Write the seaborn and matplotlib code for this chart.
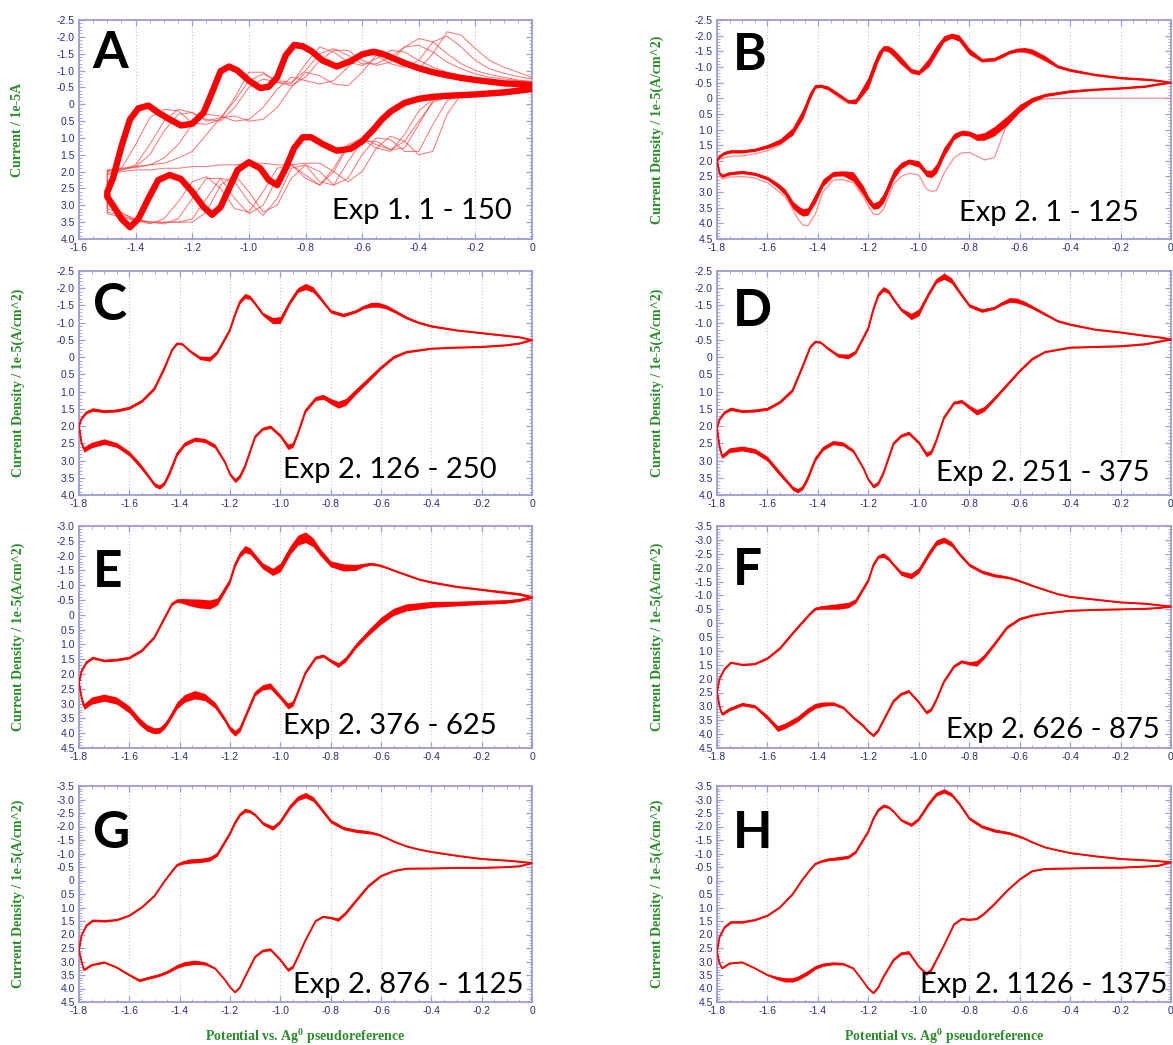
import numpy as np
import pandas as pd
import matplotlib
matplotlib.use("Agg")
import matplotlib.pyplot as plt
import seaborn as sns
from matplotlib.ticker import MultipleLocator, FuncFormatter

sns.set_style("white")
plt.rcParams["font.family"] = ["Liberation Sans", "DejaVu Sans"]
plt.rcParams["mathtext.fontset"] = "custom"
plt.rcParams["mathtext.rm"] = "Liberation Serif:bold"
plt.rcParams["mathtext.it"] = "Liberation Serif:bold"
plt.rcParams["mathtext.bf"] = "Liberation Serif:bold"

RED = "#ff0000"
SPINE = "#9c9cd4"
TICKC = "#2b2b80"
GREEN = "#2a8c2a"

# ---------------- potential grids (V vs Ag0) ----------------
XA = [0.0, -0.05, -0.1, -0.15, -0.2, -0.25, -0.3, -0.35, -0.4, -0.45, -0.5, -0.55, -0.6, -0.65, -0.7,
      -0.75, -0.8, -0.85, -0.9, -0.95, -1.0, -1.05, -1.1, -1.15, -1.2, -1.25, -1.3, -1.35, -1.4, -1.45, -1.5]
XAF = [0.0, -0.05, -0.1, -0.15, -0.2, -0.25, -0.3, -0.35, -0.4, -0.45, -0.5, -0.53, -0.56, -0.6, -0.64,
       -0.69, -0.74, -0.78, -0.81, -0.84, -0.87, -0.9, -0.93, -0.96, -1.0, -1.04, -1.07, -1.1, -1.13, -1.16,
       -1.2, -1.24, -1.28, -1.32, -1.355, -1.39, -1.42, -1.45, -1.48, -1.5]
XU = [0.0, -0.05, -0.1, -0.2, -0.3, -0.4, -0.45, -0.5, -0.55, -0.58, -0.61, -0.64, -0.67, -0.7, -0.75, -0.8,
      -0.84, -0.87, -0.9, -0.93, -0.96, -1.0, -1.03, -1.07, -1.1, -1.12, -1.14, -1.16, -1.18, -1.2, -1.25,
      -1.28, -1.32, -1.36, -1.39, -1.41, -1.43, -1.46, -1.5, -1.55, -1.6, -1.65, -1.7, -1.745, -1.77, -1.79,
      -1.8]
XL = [0.0, -0.05, -0.1, -0.2, -0.3, -0.4, -0.5, -0.55, -0.6, -0.65, -0.7, -0.74, -0.77, -0.8, -0.83, -0.86,
      -0.9, -0.93, -0.95, -0.97, -1.0, -1.04, -1.07, -1.1, -1.14, -1.16, -1.18, -1.2, -1.22, -1.26, -1.3,
      -1.34, -1.38, -1.41, -1.44, -1.46, -1.48, -1.5, -1.53, -1.56, -1.6, -1.65, -1.7, -1.75, -1.78, -1.79,
      -1.8]

# ---------------- Panel A (current / 1e-5 A) ----------------
# converged cycle (thick band), on XAF
A_final_up = [-0.57, -0.60, -0.62, -0.67, -0.72, -0.78, -0.86, -0.95, -1.07, -1.22, -1.40, -1.50, -1.56, -1.48,
              -1.28, -1.12, -1.30, -1.58, -1.72, -1.76, -1.45, -0.80, -0.52, -0.48, -0.70, -1.00, -1.12, -0.98,
              -0.35, 0.25, 0.58, 0.63, 0.45, 0.25, 0.04, 0.12, 0.45, 1.25, 2.20, 2.60]
A_final_lo = [-0.45, -0.40, -0.35, -0.32, -0.29, -0.27, -0.25, -0.22, -0.16, -0.04, 0.22, 0.45, 0.75, 1.10,
              1.32, 1.38, 1.18, 0.98, 0.98, 1.30, 1.90, 2.40, 2.25, 1.90, 1.72, 1.95, 2.50, 3.05, 3.28, 3.05,
              2.60, 2.22, 2.10, 2.25, 2.80, 3.40, 3.65, 3.40, 3.00, 2.75]
# early drifting cycles (thin lines), on XA
A_c1_up = [-0.80, -0.95, -1.10, -1.30, -1.65, -2.05, -2.15, -1.50, -1.05, -1.15, -1.45, -1.45, -0.95, -0.55,
           -0.60, -0.85, -0.95, -0.50, 0.10, 0.45, 0.50, 0.35, 0.40, 0.90, 1.40, 1.60, 1.75, 1.80, 1.85, 1.90,
           1.95]
A_c1_lo = [-0.45, -0.42, -0.40, -0.38, -0.35, -0.30, 0.30, 1.40, 1.50, 1.10, 0.95, 1.30, 2.00, 2.30, 2.00,
           1.75, 1.75, 1.80, 1.80, 1.75, 1.75, 1.80, 1.80, 1.85, 1.85, 1.90, 1.90, 1.95, 1.95, 2.00, 2.05]
A_c2_up = [-0.75, -0.82, -0.92, -1.05, -1.30, -1.70, -2.02, -1.85, -1.30, -1.10, -1.20, -1.45, -1.50, -1.10,
           -0.70, -0.60, -0.70, -0.80, -0.45, 0.10, 0.45, 0.50, 0.35, 0.30, 0.60, 1.20, 1.60, 1.80, 1.88,
           1.92, 1.97]
A_c2_lo = [-0.45, -0.42, -0.40, -0.38, -0.35, -0.30, -0.10, 0.60, 1.40, 1.40, 1.05, 1.00, 1.50, 2.20, 2.40,
           2.00, 1.80, 2.20, 3.00, 3.20, 2.60, 2.10, 2.40, 3.20, 3.50, 3.50, 3.50, 3.50, 3.45, 3.35, 3.25]
A_c3_up = [-0.68, -0.72, -0.80, -0.88, -1.00, -1.20, -1.50, -1.85, -1.95, -1.70, -1.25, -1.15, -1.30, -1.60,
           -1.60, -1.30, -0.80, -0.55, -0.65, -0.75, -0.50, 0.10, 0.50, 0.45, 0.25, 0.30, 0.80, 1.50, 1.85,
           1.95, 2.00]
A_c3_lo = [-0.45, -0.42, -0.40, -0.38, -0.35, -0.32, -0.28, -0.10, 0.60, 1.30, 1.35, 1.10, 1.10, 1.70, 2.40,
           2.30, 1.80, 1.90, 2.80, 3.30, 2.90, 2.30, 2.20, 2.80, 3.40, 3.50, 3.50, 3.50, 3.45, 3.30, 3.20]
A_c4_up = [-0.65, -0.70, -0.75, -0.80, -0.90, -1.05, -1.25, -1.55, -1.75, -1.70, -1.40, -1.20, -1.20, -1.45,
           -1.65, -1.50, -1.00, -0.65, -0.70, -0.90, -0.70, -0.10, 0.40, 0.50, 0.25, 0.15, 0.50, 1.20, 1.80,
           1.95, 2.10]
A_c4_lo = [-0.45, -0.42, -0.40, -0.37, -0.34, -0.30, -0.25, -0.15, 0.20, 0.90, 1.40, 1.30, 1.05, 1.25, 2.00,
           2.40, 2.10, 1.80, 2.20, 3.00, 3.25, 2.80, 2.20, 2.20, 2.80, 3.40, 3.55, 3.50, 3.40, 3.25, 3.10]
A_c5_up = [-0.62, -0.65, -0.68, -0.72, -0.78, -0.85, -0.95, -1.10, -1.30, -1.55, -1.60, -1.35, -1.15, -1.25,
           -1.55, -1.70, -1.20, -0.60, -0.65, -0.95, -0.95, -0.20, 0.45, 0.60, 0.55, 0.20, 0.15, 0.40, 1.20,
           1.90, 2.30]
A_c5_lo = [-0.45, -0.42, -0.38, -0.35, -0.32, -0.28, -0.22, -0.05, 0.50, 1.10, 1.35, 1.20, 1.00, 1.20, 1.90,
           2.40, 2.20, 1.80, 1.90, 2.60, 3.20, 3.10, 2.50, 2.15, 2.30, 2.90, 3.40, 3.55, 3.45, 3.20, 3.00]

# ---------------- Panels B-H (current density / 1e-5 A cm^-2) ----------------
B_up = [-0.50, -0.56, -0.60, -0.65, -0.75, -0.90, -1.02, -1.28, -1.49, -1.55, -1.54, -1.48, -1.36, -1.25,
        -1.22, -1.50, -1.92, -2.00, -1.90, -1.55, -1.15, -0.82, -0.88, -1.20, -1.45, -1.58, -1.60, -1.35,
        -0.95, -0.50, 0.10, 0.10, -0.12, -0.33, -0.40, -0.38, -0.10, 0.50, 1.06, 1.38, 1.54, 1.65, 1.70,
        1.70, 1.75, 1.86, 2.00]
B_up_hw = [0.02, 0.02, 0.03, 0.03, 0.03, 0.04, 0.05, 0.08, 0.08, 0.07, 0.06, 0.05, 0.06, 0.05, 0.05, 0.10,
           0.10, 0.08, 0.10, 0.14, 0.14, 0.07, 0.07, 0.12, 0.12, 0.10, 0.08, 0.15, 0.18, 0.18, 0.08, 0.05,
           0.06, 0.06, 0.05, 0.06, 0.12, 0.15, 0.12, 0.08, 0.06, 0.05, 0.05, 0.05, 0.05, 0.05, 0.03]
B_lo = [-0.50, -0.45, -0.38, -0.32, -0.28, -0.22, -0.10, 0.05, 0.32, 0.72, 1.05, 1.22, 1.25, 1.13, 1.10, 1.22,
        1.72, 2.25, 2.42, 2.40, 2.10, 2.02, 2.15, 2.45, 3.20, 3.40, 3.45, 3.25, 2.95, 2.50, 2.40, 2.42, 2.70,
        3.20, 3.62, 3.65, 3.55, 3.40, 3.00, 2.78, 2.56, 2.42, 2.36, 2.40, 2.48, 2.40, 2.00]
B_lo_hw = [0.02, 0.03, 0.03, 0.03, 0.03, 0.04, 0.05, 0.08, 0.12, 0.15, 0.15, 0.12, 0.10, 0.08, 0.08, 0.10,
           0.15, 0.15, 0.12, 0.10, 0.10, 0.08, 0.10, 0.15, 0.15, 0.12, 0.10, 0.12, 0.15, 0.15, 0.08, 0.08,
           0.12, 0.15, 0.12, 0.12, 0.12, 0.12, 0.10, 0.08, 0.06, 0.05, 0.05, 0.05, 0.05, 0.05, 0.03]
B_first_up = [-0.50, -0.55, -0.58, -0.62, -0.72, -0.86, -0.98, -1.20, -1.40, -1.47, -1.48, -1.42, -1.30, -1.18,
              -1.15, -1.42, -1.85, -1.92, -1.85, -1.50, -1.10, -0.75, -0.80, -1.12, -1.40, -1.52, -1.55, -1.30,
              -0.90, -0.45, 0.15, 0.17, -0.03, -0.28, -0.37, -0.35, -0.05, 0.55, 1.15, 1.50, 1.68, 1.78, 1.84,
              1.86, 1.90, 1.95, 2.00]
B_first_lo = [0.00, 0.00, 0.00, 0.00, 0.00, 0.00, 0.02, 0.10, 0.30, 0.80, 1.90, 1.97, 1.85, 1.73, 1.75, 1.90,
              2.40, 2.95, 2.98, 2.90, 2.45, 2.40, 2.50, 2.75, 3.55, 3.72, 3.70, 3.45, 3.15, 2.70, 2.60, 2.62,
              3.00, 3.70, 4.08, 4.05, 3.85, 3.55, 3.15, 2.95, 2.70, 2.55, 2.50, 2.52, 2.58, 2.45, 2.00]

C_up = [-0.50, -0.58, -0.62, -0.70, -0.78, -0.90, -1.00, -1.15, -1.35, -1.46, -1.52, -1.52, -1.45, -1.33,
        -1.22, -1.33, -1.70, -1.96, -2.05, -1.95, -1.62, -1.08, -1.06, -1.25, -1.55, -1.73, -1.78, -1.62,
        -1.25, -0.80, -0.15, 0.05, 0.02, -0.18, -0.38, -0.40, -0.22, 0.30, 0.90, 1.27, 1.47, 1.55, 1.57,
        1.52, 1.60, 1.78, 2.00]
UP_HW_STD = [0.02, 0.02, 0.02, 0.02, 0.02, 0.03, 0.03, 0.04, 0.05, 0.06, 0.07, 0.07, 0.05, 0.04, 0.05, 0.05,
             0.06, 0.08, 0.09, 0.07, 0.06, 0.10, 0.09, 0.05, 0.05, 0.06, 0.07, 0.06, 0.05, 0.04, 0.05, 0.07,
             0.05, 0.04, 0.03, 0.03, 0.03, 0.05, 0.05, 0.04, 0.04, 0.04, 0.04, 0.05, 0.04, 0.03, 0.02]
C_lo = [-0.50, -0.40, -0.35, -0.30, -0.28, -0.25, -0.15, 0.00, 0.30, 0.65, 1.00, 1.30, 1.38, 1.28, 1.15, 1.20,
        1.55, 2.20, 2.55, 2.60, 2.28, 2.02, 2.08, 2.30, 3.15, 3.45, 3.58, 3.40, 3.05, 2.58, 2.42, 2.38, 2.52,
        2.80, 3.35, 3.65, 3.77, 3.70, 3.40, 3.12, 2.80, 2.55, 2.45, 2.55, 2.68, 2.50, 2.00]
C_lo_hw = [0.02, 0.02, 0.02, 0.02, 0.02, 0.02, 0.03, 0.04, 0.05, 0.07, 0.08, 0.10, 0.10, 0.08, 0.07, 0.06,
           0.05, 0.05, 0.07, 0.08, 0.05, 0.05, 0.04, 0.04, 0.05, 0.06, 0.06, 0.05, 0.05, 0.06, 0.06, 0.06,
           0.06, 0.06, 0.07, 0.06, 0.06, 0.06, 0.06, 0.07, 0.07, 0.07, 0.08, 0.08, 0.08, 0.05, 0.03]

D_up = [-0.52, -0.58, -0.62, -0.72, -0.80, -0.95, -1.05, -1.25, -1.45, -1.56, -1.64, -1.66, -1.56, -1.43,
        -1.35, -1.50, -1.90, -2.22, -2.35, -2.22, -1.85, -1.30, -1.18, -1.38, -1.68, -1.90, -1.98, -1.82,
        -1.40, -0.85, -0.15, -0.02, -0.05, -0.25, -0.43, -0.45, -0.30, 0.25, 0.95, 1.30, 1.50, 1.55, 1.57,
        1.50, 1.60, 1.80, 2.05]
D_lo = [-0.52, -0.45, -0.38, -0.32, -0.30, -0.28, -0.15, 0.05, 0.40, 0.80, 1.20, 1.50, 1.60, 1.45, 1.28, 1.32,
        1.75, 2.40, 2.75, 2.82, 2.48, 2.20, 2.28, 2.50, 3.35, 3.65, 3.75, 3.55, 3.22, 2.72, 2.52, 2.48, 2.65,
        2.95, 3.50, 3.78, 3.88, 3.80, 3.55, 3.30, 2.95, 2.72, 2.65, 2.70, 2.88, 2.60, 2.05]
D_lo_hw = [0.02, 0.02, 0.02, 0.02, 0.02, 0.02, 0.02, 0.03, 0.03, 0.04, 0.05, 0.07, 0.08, 0.06, 0.05, 0.04,
           0.04, 0.05, 0.06, 0.07, 0.05, 0.05, 0.04, 0.04, 0.05, 0.05, 0.05, 0.04, 0.04, 0.05, 0.06, 0.06,
           0.06, 0.06, 0.07, 0.06, 0.06, 0.06, 0.06, 0.07, 0.07, 0.07, 0.07, 0.07, 0.06, 0.05, 0.03]

E_up = [-0.60, -0.70, -0.75, -0.85, -0.95, -1.10, -1.20, -1.35, -1.50, -1.60, -1.68, -1.72, -1.68, -1.60,
        -1.60, -1.72, -2.10, -2.45, -2.62, -2.52, -2.20, -1.60, -1.45, -1.65, -1.95, -2.15, -2.22, -2.05,
        -1.70, -1.15, -0.45, -0.35, -0.38, -0.42, -0.47, -0.48, -0.38, 0.10, 0.75, 1.20, 1.45, 1.52, 1.55,
        1.45, 1.60, 1.90, 2.30]
E_up_hw = [0.04, 0.04, 0.04, 0.03, 0.03, 0.03, 0.03, 0.03, 0.03, 0.03, 0.04, 0.04, 0.06, 0.10, 0.12, 0.10,
           0.12, 0.15, 0.18, 0.17, 0.15, 0.15, 0.12, 0.10, 0.10, 0.11, 0.12, 0.10, 0.08, 0.08, 0.12, 0.15,
           0.15, 0.12, 0.08, 0.06, 0.05, 0.04, 0.04, 0.04, 0.04, 0.04, 0.04, 0.04, 0.04, 0.03, 0.02]
E_lo = [-0.60, -0.50, -0.45, -0.42, -0.38, -0.35, -0.25, -0.10, 0.20, 0.60, 1.05, 1.50, 1.70, 1.55, 1.38, 1.45,
        1.95, 2.60, 3.00, 3.08, 2.78, 2.40, 2.45, 2.65, 3.45, 3.85, 4.00, 3.85, 3.55, 3.05, 2.78, 2.70, 2.82,
        3.05, 3.50, 3.75, 3.90, 3.92, 3.82, 3.60, 3.20, 2.90, 2.80, 2.90, 3.10, 2.80, 2.30]
E_lo_hw = [0.04, 0.05, 0.06, 0.07, 0.08, 0.10, 0.12, 0.12, 0.12, 0.10, 0.08, 0.08, 0.08, 0.06, 0.05, 0.05,
           0.05, 0.06, 0.09, 0.10, 0.08, 0.10, 0.09, 0.08, 0.08, 0.09, 0.10, 0.09, 0.08, 0.10, 0.12, 0.14,
           0.13, 0.12, 0.10, 0.10, 0.10, 0.10, 0.11, 0.12, 0.12, 0.12, 0.12, 0.12, 0.10, 0.06, 0.03]

F_up = [-0.60, -0.65, -0.70, -0.75, -0.85, -0.95, -1.05, -1.20, -1.35, -1.45, -1.55, -1.63, -1.68, -1.72,
        -1.85, -2.10, -2.50, -2.85, -3.00, -2.90, -2.50, -1.90, -1.70, -1.80, -2.10, -2.32, -2.45, -2.40,
        -2.10, -1.55, -0.80, -0.65, -0.60, -0.58, -0.56, -0.52, -0.35, -0.05, 0.36, 0.90, 1.27, 1.47, 1.50,
        1.42, 1.65, 2.00, 2.50]
F_up_hw = [0.02, 0.02, 0.02, 0.02, 0.02, 0.02, 0.02, 0.03, 0.03, 0.03, 0.04, 0.04, 0.05, 0.06, 0.06, 0.06,
           0.07, 0.09, 0.10, 0.10, 0.10, 0.10, 0.10, 0.08, 0.06, 0.07, 0.08, 0.06, 0.05, 0.06, 0.08, 0.10,
           0.10, 0.08, 0.06, 0.05, 0.04, 0.04, 0.04, 0.04, 0.03, 0.03, 0.03, 0.03, 0.03, 0.03, 0.02]
F_lo = [-0.60, -0.55, -0.52, -0.50, -0.48, -0.45, -0.35, -0.28, -0.15, 0.15, 0.75, 1.20, 1.45, 1.45, 1.38, 1.55,
        2.10, 2.75, 3.10, 3.22, 2.85, 2.45, 2.55, 2.80, 3.50, 3.85, 4.05, 3.90, 3.70, 3.40, 3.04, 2.90, 2.92,
        2.98, 3.15, 3.30, 3.45, 3.55, 3.70, 3.80, 3.40, 3.00, 2.92, 3.10, 3.28, 3.00, 2.50]
F_lo_hw = [0.02, 0.02, 0.02, 0.02, 0.02, 0.02, 0.02, 0.03, 0.04, 0.05, 0.06, 0.08, 0.10, 0.06, 0.05, 0.05,
           0.04, 0.05, 0.06, 0.06, 0.05, 0.05, 0.05, 0.05, 0.04, 0.05, 0.05, 0.05, 0.05, 0.05, 0.05, 0.06,
           0.08, 0.09, 0.10, 0.10, 0.10, 0.10, 0.10, 0.10, 0.08, 0.06, 0.06, 0.06, 0.05, 0.04, 0.02]

G_up = [-0.65, -0.70, -0.74, -0.80, -0.92, -1.06, -1.15, -1.27, -1.45, -1.58, -1.70, -1.77, -1.81, -1.84,
        -1.94, -2.20, -2.68, -3.02, -3.16, -3.05, -2.75, -2.18, -1.94, -2.12, -2.43, -2.56, -2.60, -2.45,
        -2.15, -1.75, -0.98, -0.80, -0.74, -0.72, -0.66, -0.58, -0.35, 0.02, 0.57, 0.99, 1.30, 1.46, 1.50,
        1.48, 1.66, 2.03, 2.58]
G_up_hw = [0.02, 0.02, 0.02, 0.02, 0.02, 0.02, 0.02, 0.02, 0.03, 0.03, 0.04, 0.05, 0.06, 0.06, 0.06, 0.07,
           0.08, 0.09, 0.10, 0.09, 0.08, 0.06, 0.08, 0.06, 0.05, 0.06, 0.07, 0.06, 0.06, 0.05, 0.07, 0.08,
           0.08, 0.08, 0.06, 0.04, 0.03, 0.02, 0.02, 0.02, 0.02, 0.03, 0.04, 0.04, 0.03, 0.02, 0.02]
G_lo = [-0.65, -0.53, -0.50, -0.47, -0.47, -0.45, -0.44, -0.35, -0.17, 0.20, 0.75, 1.20, 1.45, 1.38, 1.34, 1.50,
        2.21, 2.82, 3.20, 3.31, 2.94, 2.55, 2.60, 2.82, 3.56, 3.95, 4.14, 3.95, 3.68, 3.25, 3.07, 3.03, 3.08,
        3.18, 3.34, 3.43, 3.50, 3.55, 3.62, 3.70, 3.50, 3.22, 3.03, 3.13, 3.31, 3.00, 2.58]
G_lo_hw = [0.02, 0.02, 0.02, 0.02, 0.02, 0.02, 0.02, 0.02, 0.03, 0.04, 0.05, 0.06, 0.06, 0.04, 0.03, 0.02,
           0.02, 0.03, 0.05, 0.06, 0.05, 0.05, 0.04, 0.03, 0.02, 0.02, 0.02, 0.02, 0.02, 0.03, 0.06, 0.08,
           0.08, 0.07, 0.06, 0.05, 0.05, 0.05, 0.05, 0.05, 0.04, 0.03, 0.03, 0.03, 0.03, 0.02, 0.02]

H_up = [-0.68, -0.72, -0.75, -0.80, -0.90, -1.02, -1.12, -1.23, -1.42, -1.55, -1.66, -1.75, -1.80, -1.85,
        -2.00, -2.30, -2.85, -3.18, -3.32, -3.20, -2.85, -2.28, -2.06, -2.24, -2.55, -2.72, -2.77, -2.62,
        -2.30, -1.82, -1.06, -0.87, -0.82, -0.78, -0.70, -0.62, -0.41, -0.05, 0.50, 0.99, 1.30, 1.46, 1.54,
        1.54, 1.73, 2.09, 2.64]
H_up_hw = [0.02, 0.02, 0.02, 0.02, 0.02, 0.02, 0.02, 0.02, 0.03, 0.03, 0.04, 0.05, 0.05, 0.06, 0.06, 0.06,
           0.06, 0.07, 0.08, 0.07, 0.07, 0.06, 0.06, 0.05, 0.04, 0.05, 0.06, 0.05, 0.05, 0.04, 0.05, 0.06,
           0.06, 0.05, 0.04, 0.03, 0.02, 0.02, 0.02, 0.02, 0.02, 0.03, 0.04, 0.04, 0.03, 0.02, 0.02]
H_lo = [-0.68, -0.55, -0.52, -0.48, -0.47, -0.45, -0.43, -0.35, -0.04, 0.38, 0.87, 1.22, 1.42, 1.45, 1.42, 1.62,
        2.40, 2.94, 3.30, 3.45, 3.19, 2.66, 2.70, 2.94, 3.56, 3.95, 4.17, 4.00, 3.74, 3.25, 3.09, 3.07, 3.12,
        3.22, 3.41, 3.52, 3.62, 3.68, 3.68, 3.62, 3.50, 3.25, 3.03, 3.07, 3.25, 3.07, 2.64]
H_lo_hw = [0.02, 0.02, 0.02, 0.02, 0.02, 0.02, 0.02, 0.02, 0.02, 0.02, 0.03, 0.03, 0.03, 0.03, 0.03, 0.02,
           0.02, 0.03, 0.05, 0.06, 0.04, 0.06, 0.05, 0.04, 0.03, 0.03, 0.03, 0.03, 0.02, 0.03, 0.04, 0.05,
           0.06, 0.07, 0.08, 0.08, 0.08, 0.08, 0.08, 0.06, 0.03, 0.02, 0.02, 0.02, 0.02, 0.02, 0.02]

LETTERS = ["A", "B", "C", "D", "E", "F", "G", "H"]
RANGES = ["Exp 1. 1 - 150", "Exp 2. 1 - 125", "Exp 2. 126 - 250", "Exp 2. 251 - 375",
          "Exp 2. 376 - 625", "Exp 2. 626 - 875", "Exp 2. 876 - 1125", "Exp 2. 1126 - 1375"]
YLABEL_A = "Current / 1e-5A"
YLABEL = "Current Density / 1e-5(A/cm^2)"
XLABEL = "Potential vs. Ag$^{0}$ pseudoreference"

# sanity check of array lengths
for nm, arr, grid in [("B_up", B_up, XU), ("B_up_hw", B_up_hw, XU), ("B_lo", B_lo, XL), ("B_lo_hw", B_lo_hw, XL),
                      ("B_first_up", B_first_up, XU), ("B_first_lo", B_first_lo, XL),
                      ("C_up", C_up, XU), ("UP_HW_STD", UP_HW_STD, XU), ("C_lo", C_lo, XL), ("C_lo_hw", C_lo_hw, XL),
                      ("D_up", D_up, XU), ("D_lo", D_lo, XL), ("D_lo_hw", D_lo_hw, XL),
                      ("E_up", E_up, XU), ("E_up_hw", E_up_hw, XU), ("E_lo", E_lo, XL), ("E_lo_hw", E_lo_hw, XL),
                      ("F_up", F_up, XU), ("F_up_hw", F_up_hw, XU), ("F_lo", F_lo, XL), ("F_lo_hw", F_lo_hw, XL),
                      ("G_up", G_up, XU), ("G_up_hw", G_up_hw, XU), ("G_lo", G_lo, XL), ("G_lo_hw", G_lo_hw, XL),
                      ("H_up", H_up, XU), ("H_up_hw", H_up_hw, XU), ("H_lo", H_lo, XL), ("H_lo_hw", H_lo_hw, XL),
                      ("A_final_up", A_final_up, XAF), ("A_final_lo", A_final_lo, XAF),
                      ("A_c1_up", A_c1_up, XA), ("A_c1_lo", A_c1_lo, XA), ("A_c2_up", A_c2_up, XA),
                      ("A_c2_lo", A_c2_lo, XA), ("A_c3_up", A_c3_up, XA), ("A_c3_lo", A_c3_lo, XA),
                      ("A_c4_up", A_c4_up, XA), ("A_c4_lo", A_c4_lo, XA), ("A_c5_up", A_c5_up, XA),
                      ("A_c5_lo", A_c5_lo, XA)]:
    if len(arr) != len(grid):
        raise ValueError(f"{nm}: {len(arr)} vs {len(grid)}")

# ---------------- layout ----------------
W, H = 1173, 1045
fig = plt.figure(figsize=(W / 100, H / 100), dpi=100)
col_x = [(79, 532), (717, 1171)]
row_y = [(20, 239), (271, 495), (526, 748), (786, 1002)]
YLIMS = [(-2.5, 4.0), (-2.5, 4.5), (-2.5, 4.0), (-2.5, 4.0),
         (-3.0, 4.5), (-3.5, 4.5), (-3.5, 4.5), (-3.5, 4.5)]
LETTER_Y = [0.845, 0.84, 0.845, 0.82, 0.79, 0.80, 0.78, 0.78]
TEXT_POS = [(0.956, 0.128), (0.93, 0.12), (0.922, 0.11), (0.954, 0.10),
            (0.922, 0.10), (0.976, 0.08), (0.982, 0.08), (0.993, 0.08)]


def fmt(v, pos):
    if abs(v) < 1e-9:
        return "0"
    return f"{v:.1f}"


def make_ax(i):
    r, c = divmod(i, 2)
    x0, x1 = col_x[c]
    y0, y1 = row_y[r]
    ax = fig.add_axes([x0 / W, 1 - y1 / H, (x1 - x0) / W, (y1 - y0) / H])
    ymin, ymax = YLIMS[i]
    ax.set_ylim(ymax, ymin)
    ax.set_xlim(-1.6 if i == 0 else -1.8, 0.0)
    ax.xaxis.set_major_locator(MultipleLocator(0.2))
    ax.xaxis.set_minor_locator(MultipleLocator(0.05))
    ax.yaxis.set_major_locator(MultipleLocator(0.5))
    ax.yaxis.set_minor_locator(MultipleLocator(0.1))
    ax.xaxis.set_major_formatter(FuncFormatter(fmt))
    ax.yaxis.set_major_formatter(FuncFormatter(fmt))
    for s in ax.spines.values():
        s.set_color(SPINE)
        s.set_linewidth(1.3)
        s.set_visible(True)
    ax.tick_params(which="both", direction="in", color=SPINE, top=True, right=True,
                   bottom=True, left=True)
    ax.tick_params(which="major", length=4, width=0.9, labelsize=7.5, labelcolor=TICKC, pad=3)
    ax.tick_params(which="minor", length=2, width=0.6)
    ax.grid(True, axis="x", which="major", color="#c8c8c8", linestyle=(0, (1, 2)), linewidth=0.8)
    ax.set_axisbelow(True)
    lx = 18 / W if c == 0 else 657 / W
    fig.text(lx, 1 - (y0 + y1) / 2 / H, YLABEL_A if i == 0 else YLABEL, rotation=90,
             ha="center", va="center", color=GREEN, fontsize=10, fontweight="bold",
             family=["Liberation Serif", "DejaVu Serif"])
    ax.text(0.03 if c == 0 else 0.035, LETTER_Y[i], LETTERS[i], transform=ax.transAxes,
            ha="left", va="center", fontsize=37, fontweight="bold", color="black",
            family=["Lato", "Open Sans", "DejaVu Sans"], zorder=6)
    tx, ty = TEXT_POS[i]
    ax.text(tx, ty, RANGES[i], transform=ax.transAxes, ha="right", va="center",
            fontsize=21, color="black", family=["Lato", "Open Sans", "DejaVu Sans"], zorder=6)
    return ax


def band(ax, x, y, hw, lw=1.3, color=RED):
    x = np.asarray(x)
    y = np.asarray(y)
    hw = np.asarray(hw)
    ax.fill_between(x, y - hw, y + hw, color=color, linewidth=0, zorder=3)
    sns.lineplot(x=x, y=y, sort=False, estimator=None, ax=ax, color=color, linewidth=lw,
                 zorder=3, legend=False)


def loop(ax, x, lo, up, lw, color, alpha=1.0, z=2):
    xs = list(x) + list(x)[::-1]
    ys = list(lo) + list(up)[::-1]
    df = pd.DataFrame({"E": xs, "I": ys})
    sns.lineplot(data=df, x="E", y="I", sort=False, estimator=None, ax=ax, color=color,
                 linewidth=lw, alpha=alpha, zorder=z, legend=False)


axes = [make_ax(i) for i in range(8)]

# Panel A: early drifting cycles (thin) and converged cycle (thick)
axA = axes[0]
for lo, up in [(A_c1_lo, A_c1_up), (A_c2_lo, A_c2_up), (A_c3_lo, A_c3_up),
               (A_c4_lo, A_c4_up), (A_c5_lo, A_c5_up)]:
    loop(axA, XA, lo, up, lw=0.7, color="#ff4040", alpha=0.75, z=2)
loop(axA, XAF, A_final_lo, A_final_up, lw=4.6, color=RED, z=3)

# Panel B: first (faint) cycle
sns.lineplot(x=XL, y=B_first_lo, sort=False, estimator=None, ax=axes[1], color="#ff8c8c",
             linewidth=0.9, zorder=2, legend=False)
sns.lineplot(x=XU, y=B_first_up, sort=False, estimator=None, ax=axes[1], color="#ff8c8c",
             linewidth=0.9, zorder=2, legend=False)

panel_data = [
    (B_up, B_up_hw, B_lo, B_lo_hw),
    (C_up, UP_HW_STD, C_lo, C_lo_hw),
    (D_up, UP_HW_STD, D_lo, D_lo_hw),
    (E_up, E_up_hw, E_lo, E_lo_hw),
    (F_up, F_up_hw, F_lo, F_lo_hw),
    (G_up, G_up_hw, G_lo, G_lo_hw),
    (H_up, H_up_hw, H_lo, H_lo_hw),
]
for ax, (up, uhw, lo, lhw) in zip(axes[1:], panel_data):
    band(ax, XU, up, uhw)
    band(ax, XL, lo, lhw)

for ax in axes:
    ax.set_xlabel("")
    ax.set_ylabel("")

for c in range(2):
    x0, x1 = col_x[c]
    fig.text((x0 + x1) / 2 / W, 1 - 1037 / H, XLABEL, ha="center", va="center",
             color=GREEN, fontsize=10, fontweight="bold",
             family=["Liberation Serif", "DejaVu Serif"])

fig.savefig("out.png", dpi=100, facecolor="white")
